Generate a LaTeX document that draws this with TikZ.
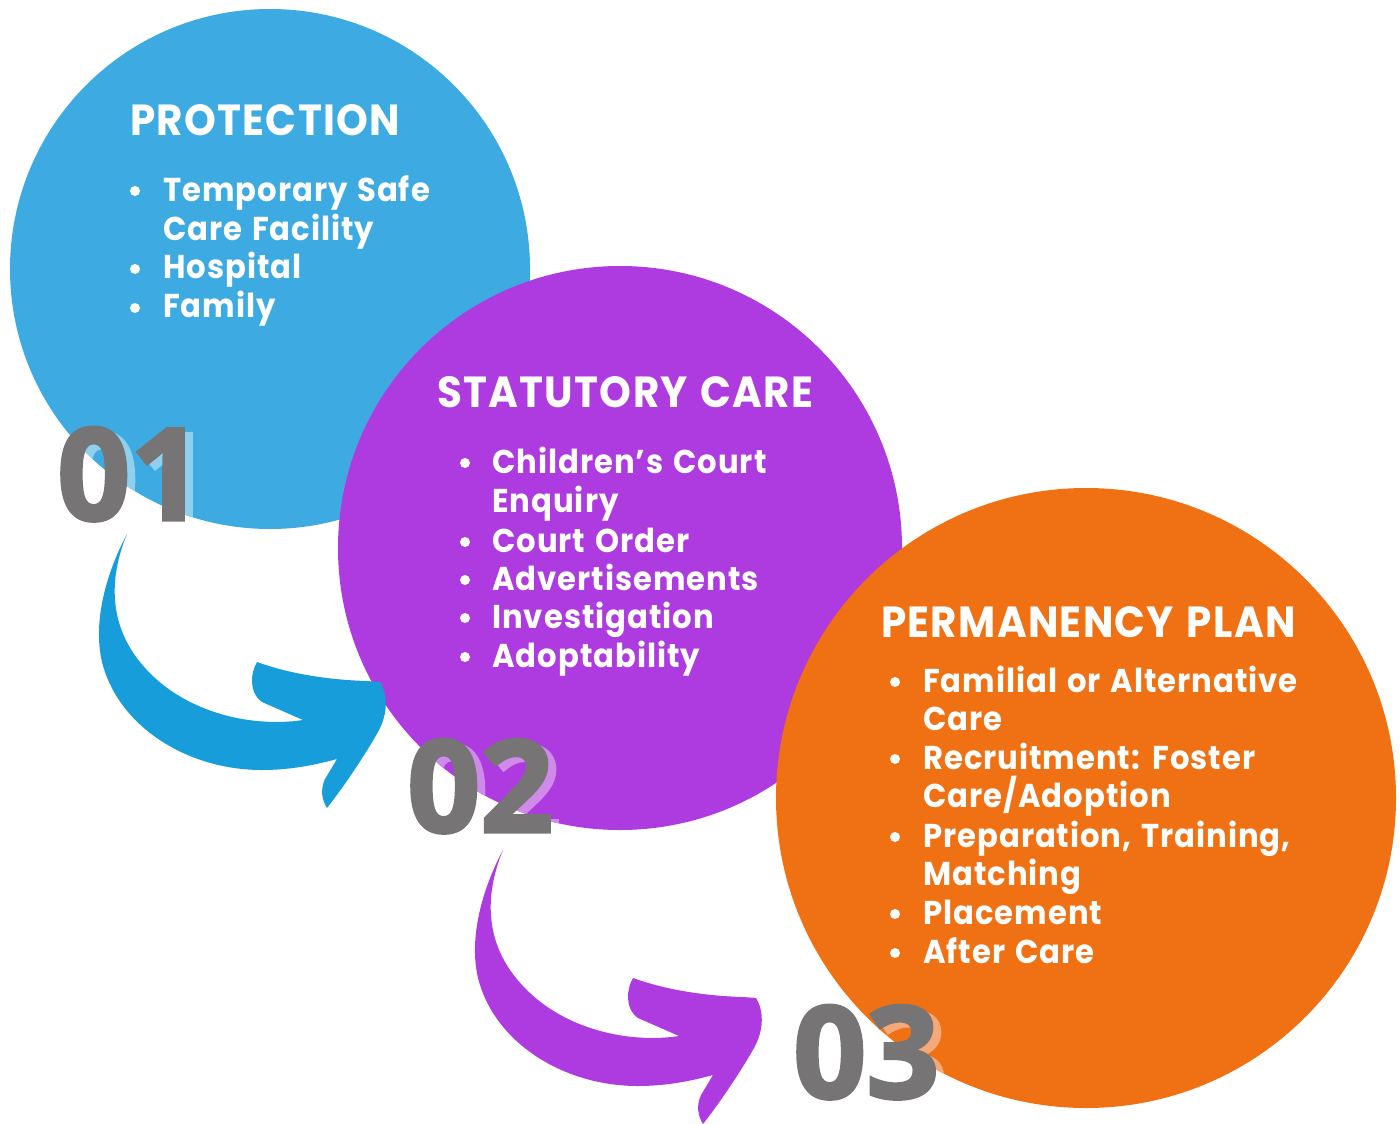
\documentclass[tikz,border=0pt]{standalone}
\usepackage{fontspec}
\setmainfont{Poppins}[FakeStretch=0.93, LetterSpace=3, WordSpace=1.3]
\newfontfamily\numfont{Open Sans}[BoldFeatures={FakeBold=2.5}]
\definecolor{blueC}{HTML}{3DABE1}
\definecolor{blueA}{HTML}{189DDB}
\definecolor{purpleC}{HTML}{AE3BE0}
\definecolor{orangeC}{HTML}{F07113}
\definecolor{grayN}{HTML}{767475}
\definecolor{blueS}{HTML}{8FD0EE}
\definecolor{purpleS}{HTML}{D08AEA}
\definecolor{orangeS}{HTML}{F5A878}
\newcommand\myarrowpath{(127,534) .. controls (105,575) and (90,630) .. (105,672)
  .. controls (125,730) and (190,770) .. (262,770)
  .. controls (290,770) and (315,765) .. (337,759)
  -- (325,779) .. controls (320,790) and (322,800) .. (327,808)
  .. controls (345,785) and (365,755) .. (378,732)
  .. controls (388,714) and (388,695) .. (380,682)
  -- (367,681) .. controls (330,680) and (290,674) .. (257,662)
  .. controls (251,672) and (248,692) .. (262,702) -- (303,720)
  .. controls (250,728) and (180,712) .. (140,662)
  .. controls (110,625) and (108,580) .. (127,534) -- cycle}
\tikzset{
  disc/.style={circle, fill=#1, inner sep=0pt, outer sep=0pt},
  headtxt/.style={anchor=base west, inner sep=0pt, text=white, font=\bfseries\fontsize{43.5}{43.5}\selectfont},
  itemtxt/.style={anchor=base west, inner sep=0pt, text=white, font=\bfseries\fontsize{33}{33}\selectfont},
  dot/.style={circle, fill=white, inner sep=0pt, minimum size=10pt},
  numtxt/.style={anchor=base west, inner sep=0pt, text=#1, font=\numfont\bfseries\fontsize{128}{128}\selectfont},
}
\begin{document}
\begin{tikzpicture}[x=1pt,y=-1pt]
\useasboundingbox (0,0) rectangle (1400,1124);
% circle 1
\node[disc=blueC, minimum size=520pt] (c1) at (270,269) {};
\begin{scope}
  \clip (c1.center) circle[radius=260pt];
  \node[numtxt=blueS] (n1s) at (65,525) {01};
\end{scope}
\node[numtxt=grayN] (n1) at (57,520) {01};
% circle 2
\node[disc=purpleC, minimum size=564pt] (c2) at (620,548) {};
\begin{scope}
  \clip (c2.center) circle[radius=282pt];
  \node[numtxt=purpleS] (n2s) at (415,837) {02};
\end{scope}
\node[numtxt=grayN] (n2) at (407,832) {02};
% circle 3
\node[disc=orangeC, minimum size=620pt] (c3) at (1086,798) {};
\begin{scope}
  \clip (c3.center) circle[radius=310pt];
  \node[numtxt=orangeS] (n3s) at (801,1103) {03};
\end{scope}
\node[numtxt=grayN] (n3) at (793,1098) {03};
% arrows
\fill[blueA] \myarrowpath;
\fill[purpleC, shift={(376,316)}] \myarrowpath;
% protection
\node[headtxt] (h1) at (130,135) {PROTECTION};
\node[dot] (b11) at (135,191) {};
\node[itemtxt] (t11) at (163,201) {Temporary Safe};
\node[itemtxt] (t12) at (163,240) {Care Facility};
\node[dot] (b12) at (135,269) {};
\node[itemtxt] (t13) at (163,278) {Hospital};
\node[dot] (b13) at (135,308) {};
\node[itemtxt] (t14) at (163,317) {Family};
% statutory
\node[headtxt] (h2) at (437,407) {STATUTORY CARE};
\node[dot] (b21) at (465,463) {};
\node[itemtxt] (t21) at (492,473) {Children’s Court};
\node[itemtxt] (t22) at (492,512) {Enquiry};
\node[dot] (b22) at (465,542) {};
\node[itemtxt] (t23) at (492,552) {Court Order};
\node[dot] (b23) at (465,580) {};
\node[itemtxt] (t24) at (492,590) {Advertisements};
\node[dot] (b24) at (465,618) {};
\node[itemtxt] (t25) at (492,628) {Investigation};
\node[dot] (b25) at (465,657) {};
\node[itemtxt] (t26) at (492,667) {Adoptability};
% permanency
\node[headtxt] (h3) at (881,637) {PERMANENCY PLAN};
\node[dot] (b31) at (895,682) {};
\node[itemtxt] (t31) at (923,692) {Familial or Alternative};
\node[itemtxt] (t32) at (923,730) {Care};
\node[dot] (b32) at (895,759) {};
\node[itemtxt] (t33) at (923,769) {Recruitment: Foster};
\node[itemtxt] (t34) at (923,807) {Care/Adoption};
\node[dot] (b33) at (895,837) {};
\node[itemtxt] (t35) at (923,847) {Preparation, Training,};
\node[itemtxt] (t36) at (923,885) {Matching};
\node[dot] (b34) at (895,914) {};
\node[itemtxt] (t37) at (923,924) {Placement};
\node[dot] (b35) at (895,953) {};
\node[itemtxt] (t38) at (923,963) {After Care};
\end{tikzpicture}
\end{document}
